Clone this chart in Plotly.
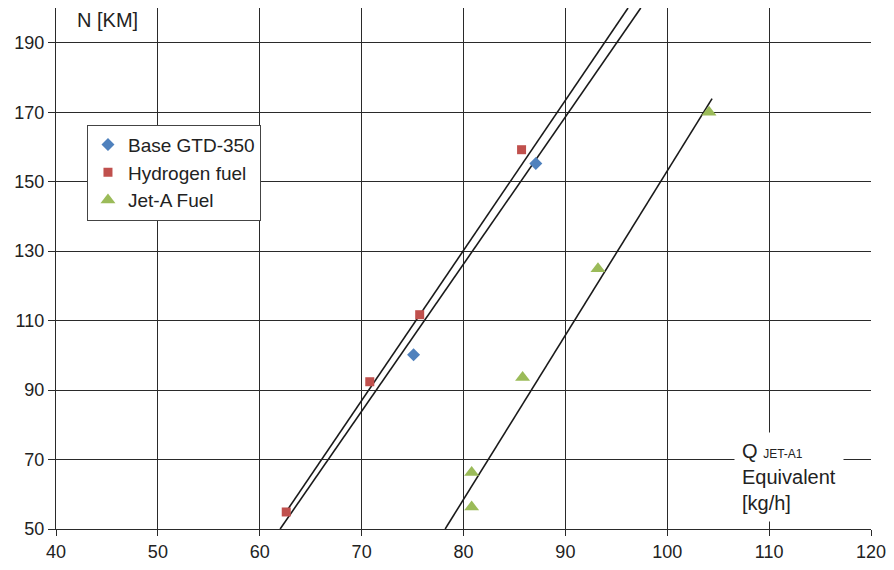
import plotly.graph_objects as go

# Data
base_x = [75.1, 87.1]
base_y = [100.2, 155.2]

hyd_x = [62.6, 70.8, 75.7, 85.7]
hyd_y = [54.9, 92.4, 111.7, 159.2]

jet_x = [80.8, 80.8, 85.8, 93.2, 104.1]
jet_y = [56.3, 66.3, 93.6, 124.9, 170.0]

# Trend lines (endpoints)
trend_hyd_x = [62.6, 96.15]
trend_hyd_y = [55.0, 200.0]
trend_base_x = [62.0, 97.4]
trend_base_y = [50.0, 200.0]
trend_jet_x = [78.2, 104.4]
trend_jet_y = [50.0, 173.9]

x_ticks = [40, 50, 60, 70, 80, 90, 100, 110, 120]
y_ticks = [50, 70, 90, 110, 130, 150, 170, 190]

BLUE = "#4F81BD"
RED = "#C0504D"
GREEN = "#9BBB59"
FONT = "Liberation Sans, Arial, sans-serif"

fig = go.Figure()

for tx, ty in [(trend_hyd_x, trend_hyd_y), (trend_base_x, trend_base_y), (trend_jet_x, trend_jet_y)]:
    fig.add_trace(go.Scatter(x=tx, y=ty, mode="lines", line=dict(color="#1a1a1a", width=1.6),
                             showlegend=False, hoverinfo="skip"))

fig.add_trace(go.Scatter(x=base_x, y=base_y, mode="markers", name="Base GTD-350",
                         marker=dict(symbol="diamond", size=10, color=BLUE)))
fig.add_trace(go.Scatter(x=hyd_x, y=hyd_y, mode="markers", name="Hydrogen fuel",
                         marker=dict(symbol="square", size=9, color=RED)))
fig.add_trace(go.Scatter(x=jet_x, y=jet_y, mode="markers", name="Jet-A Fuel",
                         marker=dict(symbol="triangle-up", size=13, color=GREEN)))

fig.update_layout(
    width=894, height=570,
    margin=dict(l=56, r=20, t=8, b=39),
    paper_bgcolor="white", plot_bgcolor="white",
    font=dict(family=FONT, size=18, color="#222"),
    showlegend=True,
    legend=dict(x=0.038, y=0.776, xanchor="left", yanchor="top",
                bgcolor="white", bordercolor="#444", borderwidth=1,
                font=dict(size=19, color="#222"), tracegroupgap=0,
                entrywidth=150, entrywidthmode="pixels"),
    xaxis=dict(range=[40, 120], tickvals=x_ticks, showgrid=True, gridcolor="#2a2a2a", gridwidth=1.2,
               showline=True, linecolor="#2a2a2a", linewidth=1.2, ticks="outside", ticklen=6,
               tickcolor="#2a2a2a", zeroline=False, tickfont=dict(size=18)),
    yaxis=dict(range=[50, 200], tickvals=y_ticks, showgrid=True, gridcolor="#2a2a2a", gridwidth=1.2,
               showline=True, linecolor="#2a2a2a", linewidth=1.2, ticks="outside", ticklen=7,
               tickcolor="#2a2a2a", zeroline=False, tickfont=dict(size=18)),
    annotations=[
        dict(text="N [KM]", x=0.023, y=0.977, xref="paper", yref="paper",
             xanchor="left", yanchor="middle", showarrow=False, font=dict(size=20, color="#222")),
        dict(text="Q <span style='font-size:12px'>JET-A1</span><br>Equivalent<br>[kg/h]",
             x=0.832, y=0.10, xref="paper", yref="paper", xanchor="left", yanchor="middle",
             align="left", showarrow=False, bgcolor="white", borderpad=7,
             font=dict(size=20, color="#222")),
    ],
)

fig.write_html("out.html")
